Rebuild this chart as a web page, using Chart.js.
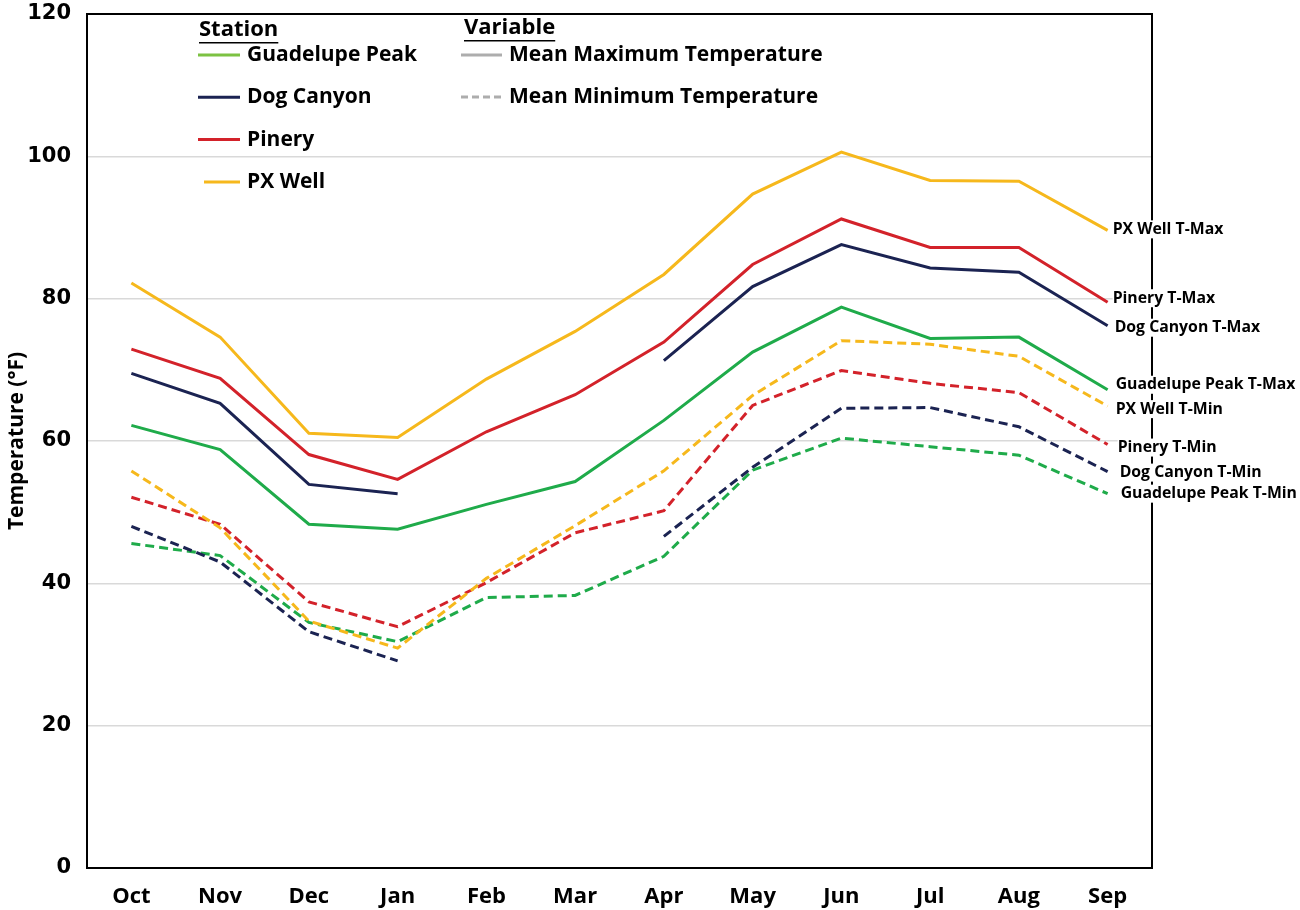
<!DOCTYPE html>
<html>
<head>
<meta charset="utf-8">
<title>Temperature by station</title>
<script src="https://cdn.jsdelivr.net/npm/chart.js@4.4.0/dist/chart.umd.min.js"></script>
<style>
  html, body { margin: 0; padding: 0; background: #fff; }
  #wrap { width: 1300px; height: 910px; }
</style>
</head>
<body>
<div id="wrap"><canvas id="chartTemp" width="1300" height="910"></canvas></div>
<script>
// Meses (año hidrológico oct-sep)
const months = ['Oct', 'Nov', 'Dec', 'Jan', 'Feb', 'Mar', 'Apr', 'May', 'Jun', 'Jul', 'Aug', 'Sep'];
const yTicks = [0, 20, 40, 60, 80, 100, 120];

// Mean maximum temperature (°F)
const pxWellMax      = [82.2, 74.6, 61.1, 60.5, 68.7, 75.4, 83.4, 94.7, 100.6, 96.6, 96.5, 89.6];
const pineryMax      = [72.9, 68.8, 58.1, 54.6, 61.3, 66.5, 73.9, 84.8, 91.2, 87.2, 87.2, 79.5];
const dogCanyonMax   = [69.5, 65.3, 53.9, 52.6, null, null, 71.3, 81.7, 87.6, 84.3, 83.7, 76.2];
const guadalupeMax   = [62.2, 58.8, 48.3, 47.6, 51.1, 54.3, 62.9, 72.5, 78.8, 74.4, 74.6, 67.2];

// Mean minimum temperature (°F)
const pxWellMin      = [55.8, 47.8, 34.7, 30.9, 40.7, 48.1, 55.8, 66.4, 74.1, 73.6, 71.9, 64.9];
const pineryMin      = [52.1, 48.3, 37.4, 33.9, 40.1, 47.1, 50.2, 65.0, 69.9, 68.1, 66.8, 59.5];
const dogCanyonMin   = [48.0, 43.0, 33.2, 29.1, null, null, 46.6, 56.3, 64.6, 64.7, 62.0, 55.7];
const guadalupeMin   = [45.6, 43.9, 34.5, 31.8, 38.0, 38.3, 43.8, 55.9, 60.4, 59.2, 58.0, 52.6];

const stationNames = ['Guadelupe Peak', 'Dog Canyon', 'Pinery', 'PX Well'];
const variableNames = ['Mean Maximum Temperature', 'Mean Minimum Temperature'];

const GREEN = '#1fab4a';
const NAVY = '#1b2352';
const RED = '#d3222a';
const YELLOW = '#f6b81c';
const DASH = [9, 5];

function serie(label, data, color, dashed, dy) {
  return {
    label: label,
    data: data,
    borderColor: color,
    backgroundColor: color,
    borderWidth: 3,
    borderDash: dashed ? DASH : [],
    pointRadius: 0,
    tension: 0,
    spanGaps: false,
    endDy: dy
  };
}

// etiquetas al final de cada línea
const endLabels = {
  id: 'endLabels',
  afterDatasetsDraw(chart) {
    const ctx = chart.ctx;
    ctx.save();
    ctx.font = 'bold 15.8px "Open Sans"';
    ctx.textBaseline = 'middle';
    ctx.textAlign = 'left';
    chart.data.datasets.forEach((ds, i) => {
      const meta = chart.getDatasetMeta(i);
      const pt = meta.data[meta.data.length - 1];
      const x = pt.x + 5 + (ds.endDx || 0);
      const y = pt.y + (ds.endDy || 0);
      const w = ctx.measureText(ds.label).width;
      ctx.fillStyle = '#fff';
      ctx.fillRect(x, y - 9, w + 2, 18);
      ctx.fillStyle = '#000';
      ctx.fillText(ds.label, x, y);
    });
    ctx.restore();
  }
};

// marco del área de trazado
const frame = {
  id: 'frame',
  beforeDatasetsDraw(chart) {
    const a = chart.chartArea;
    const ctx = chart.ctx;
    ctx.save();
    ctx.strokeStyle = '#000';
    ctx.lineWidth = 2;
    ctx.strokeRect(a.left, a.top, a.right - a.left, a.bottom - a.top);
    ctx.restore();
  }
};

// leyenda de dos columnas (estación / variable)
const twoColLegend = {
  id: 'twoColLegend',
  afterDraw(chart) {
    const ctx = chart.ctx;
    const stationColors = ['#7cc242', NAVY, RED, YELLOW];
    ctx.save();
    ctx.textBaseline = 'middle';
    ctx.textAlign = 'left';
    ctx.fillStyle = '#000';

    ctx.font = 'bold 22px "Open Sans"';
    ctx.fillText('Station', 199, 30);
    let w = ctx.measureText('Station').width;
    ctx.fillRect(199, 42, w, 1.5);
    ctx.fillText('Variable', 464, 28);
    w = ctx.measureText('Variable').width;
    ctx.fillRect(464, 40, w, 1.5);

    ctx.font = 'bold 21px "Open Sans"';
    stationNames.forEach((name, i) => {
      const y = 55 + i * 42.3;
      const x0 = i === 3 ? 204 : 198;
      ctx.strokeStyle = stationColors[i];
      ctx.lineWidth = 3;
      ctx.setLineDash([]);
      ctx.beginPath();
      ctx.moveTo(x0, y);
      ctx.lineTo(240, y);
      ctx.stroke();
      ctx.fillStyle = '#000';
      ctx.fillText(name, 247, y);
    });

    variableNames.forEach((name, i) => {
      const y = 55 + i * 42;
      ctx.strokeStyle = '#adadad';
      ctx.lineWidth = 3;
      ctx.setLineDash(i === 1 ? [7, 4] : []);
      ctx.beginPath();
      ctx.moveTo(461, y);
      ctx.lineTo(502, y);
      ctx.stroke();
      ctx.fillStyle = '#000';
      ctx.fillText(name, 509, y);
    });
    ctx.restore();
  }
};

const ctxTemp = document.getElementById('chartTemp');
new Chart(ctxTemp, {
  type: 'line',
  data: {
    labels: months,
    datasets: [
      serie('PX Well T-Max', pxWellMax, YELLOW, false, -1),
      serie('Pinery T-Max', pineryMax, RED, false, -4),
      serie('Dog Canyon T-Max', dogCanyonMax, NAVY, false, 2),
      serie('Guadelupe Peak T-Max', guadalupeMax, GREEN, false, -5),
      serie('PX Well T-Min', pxWellMin, YELLOW, true, 3),
      serie('Pinery T-Min', pineryMin, RED, true, 3),
      serie('Dog Canyon T-Min', dogCanyonMin, NAVY, true, 1),
      serie('Guadelupe Peak T-Min', guadalupeMin, GREEN, true, 0)
    ].map((d, i) => Object.assign(d, { endDx: [0, 0, 2, 3, 3, 5, 7, 8][i] }))
  },
  options: {
    responsive: false,
    animation: false,
    devicePixelRatio: 1,
    layout: { padding: { top: 14, right: 148, left: 0, bottom: 0 } },
    plugins: {
      legend: { display: false },
      tooltip: { enabled: false }
    },
    scales: {
      x: {
        offset: true,
        grid: { display: false, drawTicks: false },
        border: { display: true, color: '#000', width: 2 },
        ticks: {
          color: '#000',
          padding: 16,
          font: { family: '"Open Sans"', size: 22, weight: 'bold' }
        },
        afterFit(scale) { scale.height = 42; }
      },
      y: {
        min: 0,
        max: 120,
        afterBuildTicks(scale) { scale.ticks = yTicks.map(v => ({ value: v })); },
        grid: {
          drawTicks: false,
          lineWidth: 1.5,
          color: ctx => (ctx.tick && (ctx.tick.value === 0 || ctx.tick.value === 120)) ? 'rgba(0,0,0,0)' : '#d9d9d9'
        },
        border: { display: true, color: '#000', width: 2 },
        ticks: {
          color: '#000',
          padding: 16,
          font: { family: '"DejaVu Sans"', size: 21, weight: 'bold' }
        },
        title: {
          display: true,
          text: 'Temperature (°F)',
          color: '#000',
          padding: { top: 4, bottom: 0 },
          font: { family: '"Open Sans"', size: 21, weight: 'bold' }
        },
        afterFit(scale) {
          scale.width = 87;
          scale.paddingTop = 0;
          scale.paddingBottom = 0;
        }
      }
    }
  },
  plugins: [frame, endLabels, twoColLegend]
});
</script>
</body>
</html>
